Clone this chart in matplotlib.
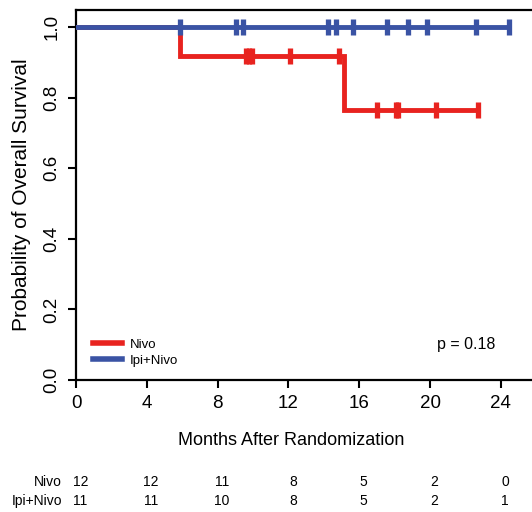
import matplotlib
matplotlib.use("Agg")
import matplotlib.pyplot as plt
import numpy as np

plt.rcParams['font.family'] = ['Liberation Sans', 'DejaVu Sans']

groups = ["Nivo", "Ipi+Nivo"]
colors = ["#e8231f", "#3a53a4"]

# Nivo: event times and censor times
nivo_event_times = [5.87, 15.15]
nivo_event_surv = [0.917, 0.764]
nivo_censor_times = [9.6, 9.8, 9.95, 12.08, 14.87, 17.03, 18.1, 18.2, 20.31, 22.7]
nivo_censor_surv = [0.917, 0.917, 0.917, 0.917, 0.917, 0.764, 0.764, 0.764, 0.764, 0.764]

# Ipi+Nivo: all censored
ipi_censor_times = [5.87, 9.02, 9.41, 14.25, 14.68, 15.62, 17.58, 18.73, 19.82, 22.57, 24.47]

risk_times = [0, 4, 8, 12, 16, 20, 24]
risk_nivo = [12, 12, 11, 8, 5, 2, 0]
risk_ipi = [11, 11, 10, 8, 5, 2, 1]

W, H = 532, 512
fig = plt.figure(figsize=(W/100, H/100), dpi=100)
ax_left, ax_top, ax_bottom = 76, 10, 380
ax = fig.add_axes([ax_left/W, 1-ax_bottom/H, 1-ax_left/W, (ax_bottom-ax_top)/H])

lw = 3.5
# Nivo step curve
xs = [0] + nivo_event_times + [nivo_censor_times[-1]]
ys = [1.0] + nivo_event_surv + [nivo_event_surv[-1]]
ax.step(xs, ys, where='post', color=colors[0], lw=lw, solid_joinstyle='miter', zorder=3)
ax.plot(nivo_censor_times, nivo_censor_surv, ls='none', marker='|', ms=11, mew=3.8, color=colors[0], zorder=4)

# Ipi+Nivo flat curve
ax.plot([0, ipi_censor_times[-1]], [1.0, 1.0], color=colors[1], lw=lw, zorder=5)
ax.plot(ipi_censor_times, [1.0]*len(ipi_censor_times), ls='none', marker='|', ms=11, mew=3.8, color=colors[1], zorder=6)

xmax = 25.76
ax.set_xlim(0, xmax)
ax.set_ylim(0, 1.048)
ax.set_xticks(risk_times)
ax.set_yticks([0, 0.2, 0.4, 0.6, 0.8, 1.0])
ax.set_yticklabels(["0.0", "0.2", "0.4", "0.6", "0.8", "1.0"], rotation=90, va='center')
ax.tick_params(axis='both', labelsize=13.5, length=6, width=1.5, direction='out', pad=5)
ax.spines['right'].set_visible(False)
for s in ['left', 'bottom', 'top']:
    ax.spines[s].set_linewidth(1.6)

ax.set_xlabel("Months After Randomization", fontsize=13, labelpad=14)
ax.xaxis.label.set_x((291 - ax_left) / (W - ax_left))
ax.set_ylabel("Probability of Overall Survival", fontsize=15, labelpad=9)

# legend
ax.legend(handles=[plt.Line2D([], [], color=colors[0], lw=4),
                   plt.Line2D([], [], color=colors[1], lw=4)],
          labels=groups, loc='lower left', bbox_to_anchor=(0.02, 0.015),
          frameon=False, fontsize=9.5, handlelength=2.2, handletextpad=0.6,
          labelspacing=0.25, borderaxespad=0.2)

ax.text(20.4, 0.101, "p = 0.18", fontsize=11.5, va='center', ha='left')

# risk table (positions in figure pixels)
px_per_month = (W - ax_left) / xmax
for t, a, b in zip(risk_times, risk_nivo, risk_ipi):
    xf = (ax_left + (t + 0.25) * px_per_month) / W
    fig.text(xf, 1-482/H, str(a), fontsize=10, ha='center', va='center')
    fig.text(xf, 1-501/H, str(b), fontsize=10, ha='center', va='center')
fig.text(62/W, 1-482/H, "Nivo", fontsize=10, ha='right', va='center')
fig.text(62/W, 1-501/H, "Ipi+Nivo", fontsize=10, ha='right', va='center')

fig.savefig("out.png", dpi=100)
